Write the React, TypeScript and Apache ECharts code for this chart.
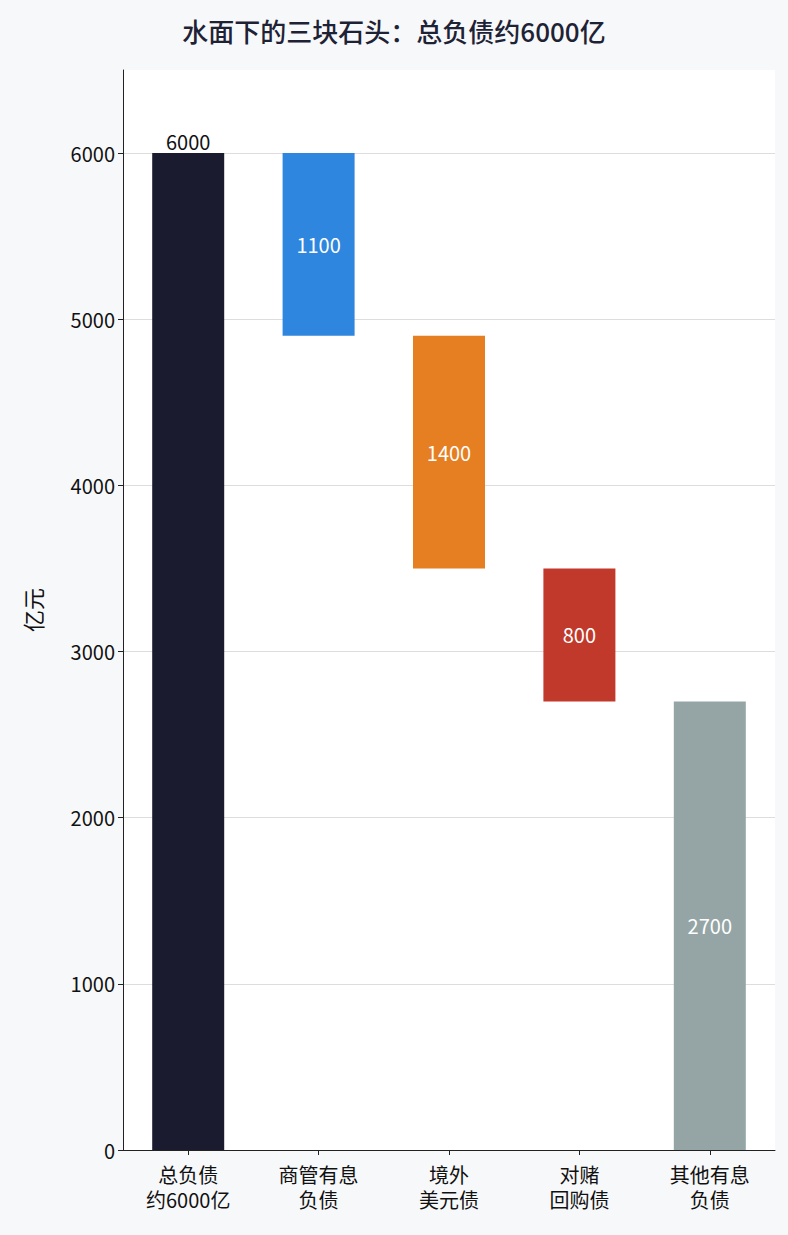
import * as echarts from "echarts";
import { useEffect, useRef } from "react";

const categories = ["总负债\n约6000亿", "商管有息\n负债", "境外\n美元债", "对赌\n回购债", "其他有息\n负债"];
const baseValues = [0, 4900, 3500, 2700, 0];
const barValues = [6000, 1100, 1400, 800, 2700];
const barColors = ["#1b1b2f", "#2e86de", "#e67e22", "#c0392b", "#95a5a6"];

const FONT = "Noto Sans CJK SC";

export default function App() {
  const ref = useRef<HTMLDivElement | null>(null);

  useEffect(() => {
    if (!ref.current) {
      return;
    }
    const chart = echarts.init(ref.current, undefined, { renderer: "svg" });
    chart.setOption({
      animation: false,
      backgroundColor: "#f7f8fa",
      textStyle: { fontFamily: FONT },
      title: {
        text: "水面下的三块石头：总负债约6000亿",
        left: "center",
        top: 12,
        textStyle: { fontSize: 26, fontWeight: 500, color: "#1e2235", fontFamily: FONT },
      },
      grid: {
        left: 123,
        right: 13,
        top: 70,
        bottom: 85,
        show: true,
        backgroundColor: "#ffffff",
        borderWidth: 0,
      },
      xAxis: {
        type: "category",
        data: categories,
        axisLine: { lineStyle: { color: "#222" } },
        axisTick: { show: true, alignWithLabel: true, lineStyle: { color: "#222" } },
        axisLabel: { color: "#111", fontSize: 20, lineHeight: 25, margin: 12, fontFamily: FONT },
      },
      yAxis: {
        type: "value",
        min: 0,
        max: 6500,
        interval: 1000,
        name: "亿元",
        nameLocation: "middle",
        nameGap: 80,
        nameTextStyle: { fontSize: 22, color: "#111", fontFamily: FONT },
        axisLine: { show: true, lineStyle: { color: "#222" } },
        axisTick: { show: true, lineStyle: { color: "#222" } },
        axisLabel: {
          color: "#111",
          fontSize: 20,
          showMaxLabel: false,
          fontFamily: FONT,
          formatter: (v: number) => String(v),
        },
        splitLine: { showMaxLine: false, lineStyle: { color: "#dddddd" } },
      },
      series: [
        {
          type: "bar",
          stack: "w",
          data: baseValues,
          itemStyle: { color: "transparent" },
          silent: true,
          barWidth: 72,
        },
        {
          type: "bar",
          stack: "w",
          barWidth: 72,
          data: barValues.map((v, i) => ({
            value: v,
            itemStyle: { color: barColors[i] },
            label:
              i === 0
                ? { show: true, position: "top", color: "#111", fontSize: 20, distance: 2 }
                : { show: true, position: "inside", color: "#ffffff", fontSize: 20 },
          })),
          label: { fontFamily: FONT },
        },
      ],
    });
    return () => {
      chart.dispose();
    };
  }, []);

  return (
    <div
      ref={ref}
      style={{ position: "absolute", left: 0, top: 0, width: 788, height: 1235 }}
    />
  );
}
